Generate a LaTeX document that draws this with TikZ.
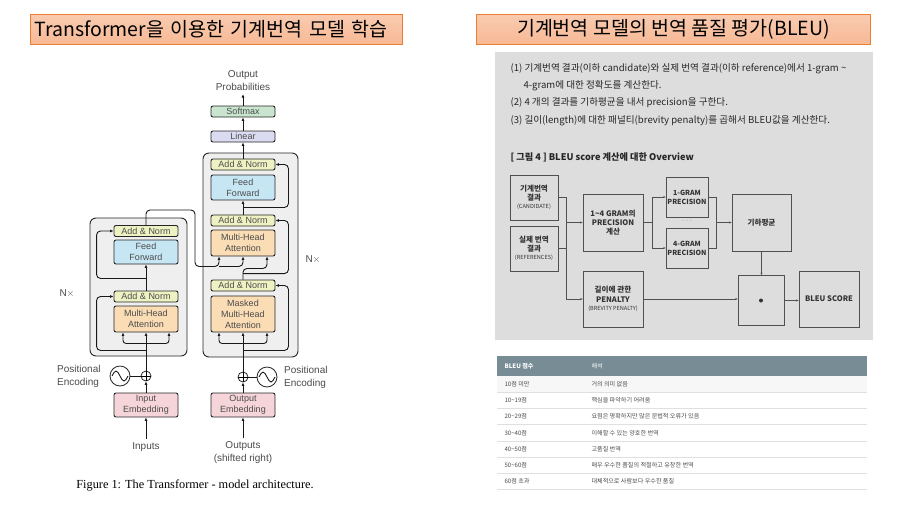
\documentclass[tikz,border=0pt]{standalone}
\usepackage{fontspec}
\usepackage{tikz}
\usetikzlibrary{arrows.meta,calc}
\newfontfamily\krfont{Noto Sans CJK KR}
\newfontfamily\hvfont{Liberation Sans}
\newfontfamily\capfont{Liberation Serif}
\newcommand\subsize{\fontsize{5.6}{6.5}\selectfont\mdseries}
\definecolor{ttlfill}{HTML}{F7B995}
\definecolor{ttlline}{HTML}{ED7D31}
\definecolor{panelgray}{HTML}{DCDDDC}
\definecolor{anfill}{HTML}{EEF2C2}
\definecolor{fffill}{HTML}{C7E6F4}
\definecolor{mhafill}{HTML}{FADCB5}
\definecolor{embfill}{HTML}{F6D5DA}
\definecolor{linfill}{HTML}{DADBF0}
\definecolor{smfill}{HTML}{C9E5CF}
\definecolor{stackfill}{HTML}{EFEFEF}
\definecolor{tblhead}{HTML}{778C95}
\definecolor{flowline}{HTML}{505050}

\tikzset{
  tlabel/.style={text=black!70,font=\hvfont\fontsize{9}{11}\selectfont,align=center},
  tbox/.style={tlabel,draw=black!85,line width=0.9pt,rounded corners=2pt,minimum width=64pt,inner sep=0pt},
  addnorm/.style={tbox,fill=anfill,minimum height=11pt},
  ffwd/.style={tbox,fill=fffill,minimum height=25pt},
  mhead/.style={tbox,fill=mhafill,minimum height=26pt},
  embed/.style={tbox,fill=embfill,minimum height=24pt},
  stack/.style={draw=black!85,line width=0.9pt,fill=stackfill,rounded corners=6pt},
  tarw/.style={-{Latex[length=3.5pt,width=3pt]},line width=0.9pt,black!90},
  tline/.style={line width=0.9pt,black!90},
  oplus/.style={circle,draw=black!85,line width=0.8pt,minimum size=10pt,inner sep=0pt},
  sinecirc/.style={circle,draw=black!85,line width=0.8pt,minimum size=20pt,inner sep=0pt},
  fbox/.style={draw=flowline,line width=0.6pt,fill=panelgray,inner sep=0pt,align=center,
    text=black!80,font=\krfont\bfseries\fontsize{7.6}{9.2}\selectfont},
  gbox/.style={fbox,minimum width=42pt,minimum height=40pt,font=\krfont\bfseries\fontsize{7}{9.2}\selectfont},
  farw/.style={-{Stealth[length=2.5pt,width=2pt]},line width=0.5pt,flowline},
  fline/.style={line width=0.5pt,flowline},
  ttl/.style={draw=ttlline,line width=1pt,top color=ttlfill!75,bottom color=ttlfill,
    minimum height=30pt,inner sep=0pt,font=\krfont\fontsize{19.5}{22}\selectfont},
  rowtxt/.style={anchor=west,text=black!70,font=\krfont\fontsize{6.1}{7}\selectfont},
  ptxt/.style={anchor=west,text=black!85,font=\krfont\fontsize{9.6}{11}\selectfont}
}

\begin{document}
\begin{tikzpicture}[x=1pt,y=-1pt]
\useasboundingbox[fill=white] (0,0) rectangle (919,515);

% titles
\node[ttl,minimum width=372pt,anchor=north west,text width=364pt,align=left] (title1) at (30,14) {Transformer을 이용한 기계번역 모델 학습};
\node[ttl,minimum width=394pt,anchor=north west] (title2) at (476,14) {기계번역 모델의 번역 품질 평가(BLEU)};

% ---------------- transformer ----------------
\draw[stack] (90,218) rectangle (187,356);
\draw[stack] (203,153) rectangle (298,357);

% decoder column
\node[tbox,fill=smfill,minimum height=11pt] (dsoft) at (243,111.5) {Softmax};
\node[tbox,fill=linfill,minimum height=11pt] (dlin) at (243,136.5) {Linear};
\node[addnorm] (dan3) at (243,164.5) {Add \& Norm};
\node[ffwd] (dff) at (243,187.5) {Feed\\Forward};
\node[addnorm] (dan2) at (243,220.5) {Add \& Norm};
\node[mhead] (dmha) at (243,243) {Multi-Head\\Attention};
\node[addnorm] (dan1) at (243,285.5) {Add \& Norm};
\node[mhead,minimum height=36pt] (dmmha) at (243,314) {Masked\\Multi-Head\\Attention};
\node[oplus] (dadd) at (243,377) {};
\node[sinecirc] (dpe) at (267,377) {};
\node[embed] (demb) at (243,405) {Output\\Embedding};

% encoder column
\node[addnorm] (ean2) at (146,231) {Add \& Norm};
\node[ffwd,minimum height=24pt] (eff) at (146,252) {Feed\\Forward};
\node[addnorm] (ean1) at (146,296.5) {Add \& Norm};
\node[mhead] (emha) at (146,319) {Multi-Head\\Attention};
\node[oplus] (eadd) at (146,376) {};
\node[sinecirc] (epe) at (120,376) {};
\node[embed] (eemb) at (146,405) {Input\\Embedding};

% labels
\node[tlabel,font=\hvfont\fontsize{10}{13}\selectfont] (outprob) at (243,80.5) {Output\\Probabilities};
\node[tlabel,font=\hvfont\fontsize{10}{13}\selectfont] (inputs) at (146,447) {Inputs};
\node[tlabel,font=\hvfont\fontsize{10}{13}\selectfont] (outputs) at (243,453) {Outputs\\(shifted right)};
\node[tlabel,font=\hvfont\fontsize{10}{13}\selectfont,align=left,anchor=west,inner sep=0pt] (epelbl) at (57,376) {Positional\\Encoding};
\node[tlabel,font=\hvfont\fontsize{10}{13}\selectfont,align=left,anchor=west,inner sep=0pt] (dpelbl) at (284,377) {Positional\\Encoding};
\node[tlabel,font=\hvfont\fontsize{10}{13}\selectfont] (encn) at (67,293) {N$\times$};
\node[tlabel,font=\hvfont\fontsize{10}{13}\selectfont] (decn) at (313,259) {N$\times$};
\node[font=\capfont\fontsize{12.3}{14}\selectfont] (caption) at (195,485) {Figure 1: The Transformer - model architecture.};

% plus signs and sine waves
\foreach \p in {eadd,dadd}{
  \draw[line width=0.7pt] (\p.north) -- (\p.south) (\p.west) -- (\p.east);
}
\foreach \p in {epe,dpe}{
  \draw[line width=0.8pt] ($(\p.center)+(-8,0)$) sin ++(4,-5) cos ++(4,5) sin ++(4,5) cos ++(4,-5);
}

% encoder wiring
\draw[tarw] (inputs.north) -- (eemb.south);
\draw[tarw] (eemb.north) -- (eadd.south);
\draw[tline] (epe.east) -- (eadd.west);
\draw[tarw] (eadd.north) -- (emha.south);
\coordinate (ebr) at ($(emha.south)+(0,11)$);
\draw[tarw,rounded corners=3pt] (ebr) -| ($(emha.south)+(-23,0)$);
\draw[tarw,rounded corners=3pt] (ebr) -| ($(emha.south)+(23,0)$);
\draw[tarw,rounded corners=4pt] ($(emha.south)+(0,18)$) -| ($(ean1.west)+(-17,0)$) -- (ean1.west);
\draw[tarw] (ean1.north) -- (eff.south);
\draw[tarw,rounded corners=4pt] ($(eff.south)+(0,14)$) -| ($(ean2.west)+(-17,0)$) -- (ean2.west);

% encoder output into decoder
\coordinate (kv) at ($(dmha.south)+(-24,10)$);
\draw[tarw,rounded corners=4pt] (ean2.north) |- (195,210) |- (kv) -- ($(dmha.south)+(-24,0)$);
\draw[tarw,rounded corners=4pt] (kv) -| (dmha.south);

% decoder wiring
\draw[tarw] (outputs.north) -- (demb.south);
\draw[tarw] (demb.north) -- (dadd.south);
\draw[tline] (dpe.west) -- (dadd.east);
\draw[tarw] (dadd.north) -- (dmmha.south);
\coordinate (dbr) at ($(dmmha.south)+(0,11)$);
\draw[tarw,rounded corners=3pt] (dbr) -| ($(dmmha.south)+(-24,0)$);
\draw[tarw,rounded corners=3pt] (dbr) -| ($(dmmha.south)+(24,0)$);
\draw[tarw,rounded corners=4pt] ($(dmmha.south)+(0,18)$) -| ($(dan1.east)+(13,0)$) -- (dan1.east);
\draw[tarw,rounded corners=4pt] (dan1.north) |- ($(dmha.south)+(24,12)$) -- ($(dmha.south)+(24,0)$);
\draw[tarw,rounded corners=4pt] ($(dan1.north)+(0,-6)$) -| ($(dan2.east)+(13,0)$) -- (dan2.east);
\draw[tarw] (dan2.north) -- (dff.south);
\draw[tarw,rounded corners=4pt] ($(dff.south)+(0,7)$) -| ($(dan3.east)+(13,0)$) -- (dan3.east);
\draw[tarw] (dan3.north) -- (dlin.south);
\draw[tarw] (dlin.north) -- (dsoft.south);
\draw[tarw] (dsoft.north) -- (outprob.south);

% ---------------- BLEU panel ----------------
\fill[panelgray] (495,52) rectangle (873,340);
\node[ptxt] (step1) at (507,69) {(1) 기계번역 결과(이하 candidate)와 실제 번역 결과(이하 reference)에서 1-gram \textasciitilde};
\node[ptxt] (step1b) at (520,86) {4-gram에 대한 정확도를 계산한다.};
\node[ptxt] (step2) at (507,103) {(2) 4 개의 결과를 기하평균을 내서 precision을 구한다.};
\node[ptxt] (step3) at (507,121) {(3) 길이(length)에 대한 패널티(brevity penalty)를 곱해서 BLEU값을 계산한다.};
\node[ptxt,font=\krfont\bfseries\fontsize{9.2}{11}\selectfont] (fig4) at (507,157) {[ 그림 4 ] BLEU score 계산에 대한 Overview};

\node[fbox,minimum width=48pt,minimum height=45pt] (cand) at (534,197.5) {기계번역\\결과\\[-1pt]{\subsize(CANDIDATE)}};
\node[fbox,minimum width=48pt,minimum height=45pt] (refs) at (534,248.5) {실제 번역\\결과\\[-1pt]{\subsize(REFERENCES)}};
\node[fbox,minimum width=60pt,minimum height=57pt] (prec) at (613,222.5) {1\textasciitilde4 GRAM의\\PRECISION\\계산};
\node[gbox] (gram1) at (687,197) {1-GRAM\\PRECISION};
\node[gbox] (gram4) at (687,248) {4-GRAM\\PRECISION};
\node[text=flowline,font=\krfont\fontsize{6}{7}\selectfont] (gdots) at (687,221) {$\cdot\cdot\cdot$};
\node[fbox,minimum width=59pt,minimum height=57pt] (geo) at (761.5,222.5) {기하평균};
\node[fbox,minimum width=60pt,minimum height=56pt] (pen) at (613,299) {길이에 관한\\PENALTY\\[-1pt]{\subsize(BREVITY PENALTY)}};
\node[fbox,minimum width=46pt,minimum height=50pt] (mul) at (761,300.5) {};
\fill[black!80] (mul.center) circle (2pt);
\node[fbox,minimum width=60pt,minimum height=56pt] (bleu) at (829,299) {BLEU SCORE};

\coordinate (j1) at ($(prec.west)+(-16,0)$);
\draw[fline] (cand.east) -| (j1);
\draw[fline] (refs.east) -| (j1);
\draw[farw] (j1) -- (prec.west);
\draw[farw] (refs.east) -| ($(pen.west)+(-16,0)$) -- (pen.west);
\coordinate (j2) at ($(prec.east)+(9,0)$);
\draw[fline] (prec.east) -- (j2);
\draw[farw] (j2) |- (gram1.west);
\draw[farw] (j2) |- (gram4.west);
\coordinate (j3) at ($(geo.west)+(-15,0)$);
\draw[fline] (gram1.east) -| (j3);
\draw[fline] (gram4.east) -| (j3);
\draw[farw] (j3) -- (geo.west);
\draw[farw] (geo.south) -- (geo.south |- mul.north);
\draw[farw] (pen.east) -- (pen.east -| mul.west);
\draw[farw] (mul.east) -- (mul.east -| bleu.west);

% ---------------- score table ----------------
\fill[tblhead] (497,356) rectangle (867,376);
\fill[black!3] (497,376) rectangle (867,392.2);
\foreach \k in {1,...,7}{
  \draw[black!12,line width=0.4pt] (497,{376+16.2*\k}) -- (867,{376+16.2*\k});
}
\node[rowtxt,text=white,font=\krfont\bfseries\fontsize{6.1}{7}\selectfont] (hscore) at (501,366) {BLEU 점수};
\node[rowtxt,text=white] (hmean) at (588,366) {해석};
\foreach \s/\m [count=\i] in {10점 미만/거의 의미 없음,
  10\textasciitilde19점/핵심을 파악하기 어려움,
  20\textasciitilde29점/요점은 명확하지만 많은 문법적 오류가 있음,
  30\textasciitilde40점/이해할 수 있는 양호한 번역,
  40\textasciitilde50점/고품질 번역,
  50\textasciitilde60점/매우 우수한 품질의 적절하고 유창한 번역,
  60점 초과/대체적으로 사람보다 우수한 품질}{
  \node[rowtxt] (score\i) at (501,{376+16.2*\i-8.1}) {\s};
  \node[rowtxt] (mean\i) at (588,{376+16.2*\i-8.1}) {\m};
}
\end{tikzpicture}
\end{document}
